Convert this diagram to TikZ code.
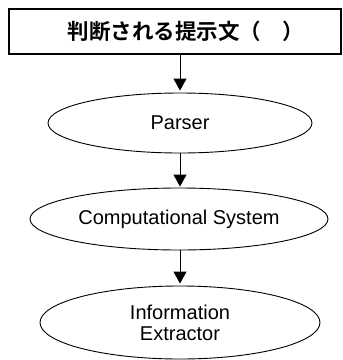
\documentclass[tikz,border=0pt]{standalone}
\usepackage{fontspec}
\setmainfont{Liberation Sans}
\newfontfamily\jpfont{Noto Sans CJK JP}[BoldFont={* Bold}]
\usetikzlibrary{arrows.meta,shapes.geometric}
\begin{document}
\begin{tikzpicture}[x=1pt,y=-1pt,
  procnode/.style={draw=black,line width=0.9pt,ellipse,inner sep=0pt,align=center,
    font=\fontsize{20}{21}\selectfont},
  flowarrow/.style={-{Triangle[length=12pt,width=13pt]},line width=0.9pt},
  headbox/.style={draw=black,line width=2pt,rectangle,inner sep=0pt}]
\useasboundingbox (0,0) rectangle (343,360);
\node[headbox,minimum width=332pt,minimum height=45.5pt] (head) at (175,31.25) {};
\node[font=\jpfont\bfseries\fontsize{21.5}{22}\selectfont,inner sep=0pt] (headlbl) at (186,31) {判断される提示文（　）};
\node[procnode,minimum width=264pt,minimum height=60pt] (parser) at (180,123) {Parser};
\node[procnode,minimum width=298pt,minimum height=62pt] (comp) at (179,219) {Computational System};
\node[procnode,minimum width=280pt,minimum height=73pt] (info) at (180,322.5) {Information\\Extractor};
\draw[flowarrow,shorten >=2pt] (head.south -| parser.north) -- (parser.north);
\draw[flowarrow,shorten >=1pt] (parser.south) -- (parser.south |- comp.north);
\draw[flowarrow,shorten >=2pt] (comp.south -| info.north) -- (info.north);
\end{tikzpicture}
\end{document}
